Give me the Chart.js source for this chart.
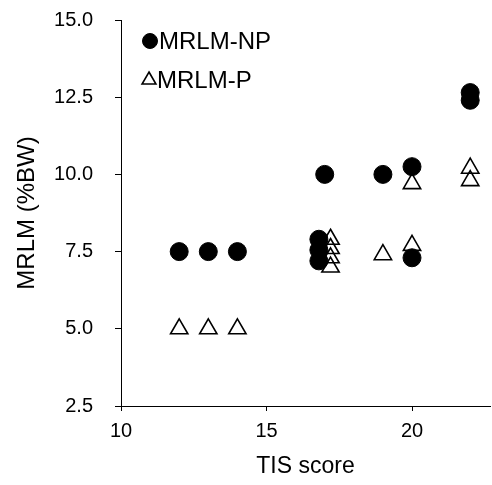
<!DOCTYPE html>
<html>
<head>
<meta charset="utf-8">
<script src="https://cdn.jsdelivr.net/npm/chart.js@4/dist/chart.umd.min.js"></script>
<style>
html,body{margin:0;padding:0;background:#fff;}
#wrap{width:492px;height:485px;}
</style>
</head>
<body>
<div id="wrap"><canvas id="c" width="492" height="485"></canvas></div>
<script>
const seriesNames = ["MRLM-NP", "MRLM-P"];
const npX = [12, 13, 14, 16.8, 16.8, 16.8, 17, 19, 20, 20, 22, 22];
const npY = [7.5, 7.5, 7.5, 7.9, 7.55, 7.2, 10, 10, 10.25, 7.3, 12.65, 12.4];
const pX = [12, 13, 14, 17.2, 17.2, 17.2, 17.2, 19, 20, 20, 22, 22];
const pY = [5, 5, 5, 7.9, 7.6, 7.3, 7.0, 7.4, 9.7, 7.7, 10.2, 9.8];
const xTicks = [10, 15, 20];
const yTicks = [2.5, 5, 7.5, 10, 12.5, 15];
const xTitle = "TIS score";
const yTitle = "MRLM (%BW)";

const FONT = "'Liberation Sans', Arial, sans-serif";
const toPts = (xs, ys) => xs.map((x, i) => ({x: x, y: ys[i]}));

const legendPlugin = {
  id: 'customLegend',
  afterDraw(chart) {
    const ctx = chart.ctx;
    const items = [
      {ds: chart.data.datasets[0], px: 150, tx: 159, y: 41, r: 7.5},
      {ds: chart.data.datasets[1], px: 149, tx: 157, y: 80, r: 8}
    ];
    ctx.save();
    items.forEach(it => {
      const ds = it.ds;
      ctx.fillStyle = ds.backgroundColor;
      ctx.strokeStyle = ds.borderColor;
      ctx.lineWidth = ds.borderWidth;
      Chart.helpers.drawPoint(ctx, {
        pointStyle: ds.pointStyle,
        radius: it.r,
        borderWidth: ds.borderWidth,
        rotation: 0
      }, it.px, it.y);
      ctx.font = "24px " + FONT;
      ctx.textBaseline = 'middle';
      ctx.textAlign = 'left';
      ctx.fillStyle = '#000';
      ctx.fillText(ds.label, it.tx, it.y + 1);
    });
    ctx.restore();
  }
};

Chart.defaults.font.family = FONT;
Chart.defaults.color = '#000';

new Chart(document.getElementById('c'), {
  type: 'scatter',
  data: {
    datasets: [
      {
        label: seriesNames[0],
        data: toPts(npX, npY),
        pointStyle: 'circle',
        pointRadius: 9,
        pointHoverRadius: 9,
        backgroundColor: '#000',
        borderColor: '#000',
        borderWidth: 1
      },
      {
        label: seriesNames[1],
        data: toPts(pX, pY),
        pointStyle: 'triangle',
        pointRadius: 10,
        pointHoverRadius: 10,
        backgroundColor: 'rgba(0,0,0,0)',
        borderColor: '#000',
        borderWidth: 1.6
      }
    ]
  },
  options: {
    responsive: false,
    animation: false,
    devicePixelRatio: 1,
    layout: {autoPadding: false, padding: {left: 0, right: 2, top: 20, bottom: 0}},
    plugins: {legend: {display: false}, tooltip: {enabled: false}},
    scales: {
      x: {
        type: 'linear',
        min: 10,
        max: 22.68,
        afterBuildTicks: s => { s.ticks = xTicks.map(v => ({value: v})); },
        afterFit: s => { s.height = 79; s.paddingLeft = 0; s.paddingRight = 0; },
        ticks: {font: {size: 20}, padding: 8, color: '#000', includeBounds: false},
        grid: {display: true, drawOnChartArea: false, drawTicks: true, tickLength: 5, color: '#000', lineWidth: 1},
        border: {display: true, color: '#000', width: 1},
        title: {display: true, text: xTitle, font: {size: 23}, color: '#000', padding: {top: 0, bottom: 5}}
      },
      y: {
        type: 'linear',
        min: 2.5,
        max: 15,
        afterBuildTicks: s => { s.ticks = yTicks.map(v => ({value: v})); },
        afterFit: s => { s.width = 121; s.paddingTop = 0; s.paddingBottom = 0; },
        ticks: {font: {size: 20}, padding: 22, color: '#000', callback: v => Number(v).toFixed(1)},
        grid: {display: true, drawOnChartArea: false, drawTicks: true, tickLength: 6, color: '#000', lineWidth: 1},
        border: {display: true, color: '#000', width: 1},
        title: {display: true, text: yTitle, font: {size: 24}, color: '#000', padding: {top: 13, bottom: 13}}
      }
    }
  },
  plugins: [legendPlugin]
});
</script>
</body>
</html>
